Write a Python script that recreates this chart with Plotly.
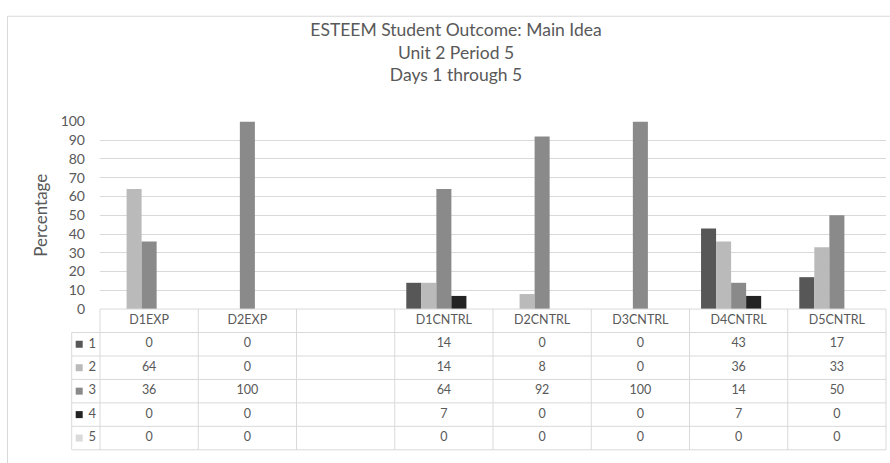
import plotly.graph_objects as go

# ---- data -------------------------------------------------------------
categories = ["D1EXP", "D2EXP", " ", "D1CNTRL", "D2CNTRL", "D3CNTRL", "D4CNTRL", "D5CNTRL"]
series_names = ["1", "2", "3", "4", "5"]
s1 = [0, 0, None, 14, 0, 0, 43, 17]
s2 = [64, 0, None, 14, 8, 0, 36, 33]
s3 = [36, 100, None, 64, 92, 100, 14, 50]
s4 = [0, 0, None, 7, 0, 0, 7, 0]
s5 = [0, 0, None, 0, 0, 0, 0, 0]
series_values = [s1, s2, s3, s4, s5]
y_ticks = list(range(0, 101, 10))

title_lines = ["ESTEEM Student Outcome: Main Idea", "Unit 2 Period 5", "Days 1 through 5"]
y_title = "Percentage"

# ---- styling ----------------------------------------------------------
colors = ["#575757", "#bababa", "#8a8a8a", "#232323", "#dadada"]
text_col = "#595959"
grid_col = "#d9d9d9"
FONT = "Lato, 'Open Sans', sans-serif"

W, H = 890, 463
plot_left, plot_right = 100.0, 886.0        # px, bar plot area
plot_top, plot_bottom = 116.7, 311.5        # px
legend_col_left = 71.7                      # px, left edge of key column
table_bottom = 457.6                        # px
n_rows = len(series_names) + 1              # header + one row per series

n_cat = len(categories)
col_w = (plot_right - plot_left) / n_cat     # px per category
row_h = (table_bottom - plot_bottom) / n_rows

fig = go.Figure()

for name, vals, col in zip(series_names, series_values, colors):
    fig.add_trace(go.Bar(
        x=categories, y=vals, name=name, marker_color=col,
        marker_line_width=0, showlegend=False,
        xaxis="x", yaxis="y", hoverinfo="x+y+name",
    ))

# ---- data table overlay (x2/y2 span the whole figure) -----------------
x2_r0 = -0.5 - plot_left / col_w
x2_r1 = n_cat - 0.5 + (W - plot_right) / col_w
y2_top = -plot_bottom / row_h
y2_bot = n_rows + (H - table_bottom) / row_h
key_left = -0.5 - (plot_left - legend_col_left) / col_w

shapes = []
line_style = dict(color=grid_col, width=1)
# horizontal rules
for r in range(n_rows + 1):
    x0 = -0.5 if r == 0 else key_left
    shapes.append(dict(type="line", xref="x2", yref="y2", x0=x0, x1=n_cat - 0.5,
                       y0=r, y1=r, line=line_style, layer="above"))
# vertical rules
shapes.append(dict(type="line", xref="x2", yref="y2", x0=key_left, x1=key_left,
                   y0=1, y1=n_rows, line=line_style))
for c in range(n_cat + 1):
    xv = c - 0.5
    shapes.append(dict(type="line", xref="x2", yref="y2", x0=xv, x1=xv,
                       y0=0, y1=n_rows, line=line_style))

# outer chart frame (top and left edges visible)
shapes.append(dict(type="path", xref="paper", yref="paper",
                   path=f"M {7.5/W} -0.1 L {7.5/W} {1-7.5/H} L 1.1 {1-7.5/H}",
                   line=dict(color=grid_col, width=1)))

# header text
fig.add_trace(go.Scatter(
    x=list(range(n_cat)), y=[0.5] * n_cat, text=[c.strip() for c in categories],
    mode="text", textfont=dict(family=FONT, size=12.5, color=text_col),
    xaxis="x2", yaxis="y2", showlegend=False, hoverinfo="skip",
))
# value cells
cx, cy, ct = [], [], []
for r, vals in enumerate(series_values):
    for c, v in enumerate(vals):
        if v is None:
            continue
        cx.append(c)
        cy.append(r + 1.5)
        ct.append(str(v))
fig.add_trace(go.Scatter(
    x=cx, y=cy, text=ct, mode="text",
    textfont=dict(family=FONT, size=12.5, color=text_col),
    xaxis="x2", yaxis="y2", showlegend=False, hoverinfo="skip",
))
# key column: colour swatches and series labels
key_rows = [r + 1.5 for r in range(len(series_names))]
fig.add_trace(go.Scatter(
    x=[key_left + 7.5 / col_w] * len(series_names), y=key_rows,
    mode="markers", marker=dict(symbol="square", size=7, color=colors),
    xaxis="x2", yaxis="y2", showlegend=False, hoverinfo="skip",
))
fig.add_trace(go.Scatter(
    x=[key_left + 20.5 / col_w] * len(series_names), y=key_rows,
    text=series_names, mode="text",
    textfont=dict(family=FONT, size=13, color=text_col),
    xaxis="x2", yaxis="y2", showlegend=False, hoverinfo="skip",
))

fig.update_layout(
    width=W, height=H,
    margin=dict(l=0, r=0, t=0, b=0),
    paper_bgcolor="white", plot_bgcolor="rgba(0,0,0,0)",
    barmode="group", bargap=0.235, bargroupgap=0,
    font=dict(family=FONT, color=text_col),
    title=dict(
        text="<br>".join(title_lines),
        x=456 / W, xanchor="center", xref="paper",
        y=1 - 28 / H, yanchor="top", yref="paper",
        font=dict(family=FONT, size=17.5, color=text_col),
    ),
    xaxis=dict(
        domain=[plot_left / W, plot_right / W],
        type="category", categoryorder="array", categoryarray=categories,
        range=[-0.5, n_cat - 0.5], showticklabels=False, showgrid=False,
        zeroline=False, showline=False, fixedrange=True,
    ),
    yaxis=dict(
        domain=[(H - plot_bottom) / H, (H - plot_top) / H],
        range=[0, 100], tickvals=y_ticks, showgrid=True, gridcolor=grid_col,
        gridwidth=1, zeroline=False, showline=False, ticks="",
        ticklabelstandoff=14,
        tickfont=dict(family=FONT, size=14, color=text_col),
        title=dict(text=y_title, font=dict(family=FONT, size=17, color=text_col),
                   standoff=8),
        fixedrange=True,
    ),
    xaxis2=dict(domain=[0, 1], range=[x2_r0, x2_r1], visible=False,
                anchor="y2", fixedrange=True),
    yaxis2=dict(domain=[0, 1], range=[y2_bot, y2_top], visible=False,
                anchor="x2", fixedrange=True),
    shapes=shapes,
)

# the page body defaults to an 8px margin; drop it so the figure sits flush
fig.write_html("out.html", post_script="document.body.style.margin='0';")
